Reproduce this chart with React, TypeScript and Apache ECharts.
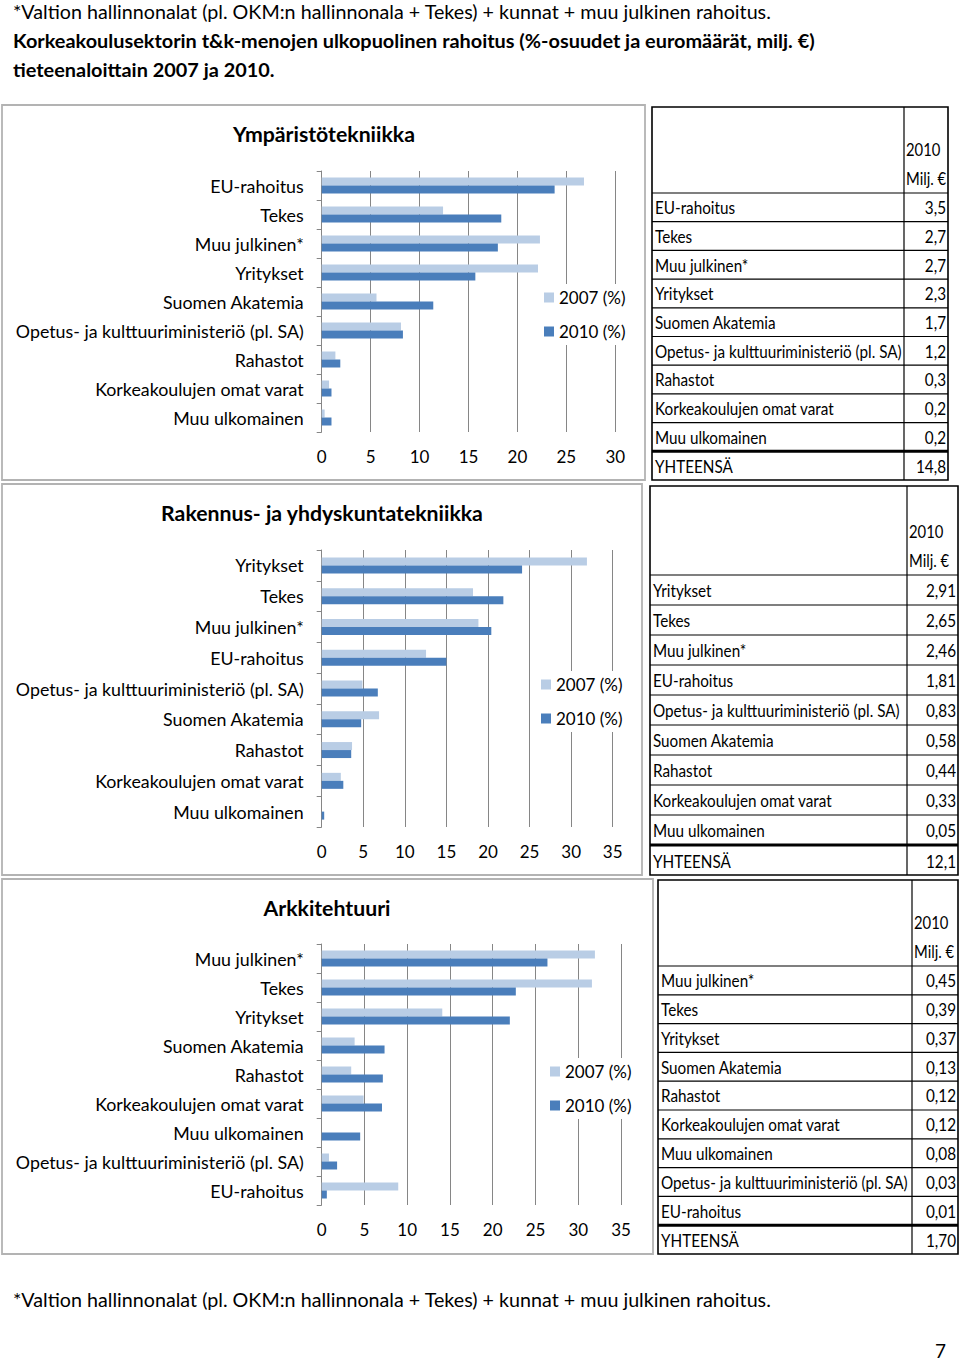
import React, { useEffect, useRef } from 'react';
import * as echarts from 'echarts';

// ---------- DATA ----------
const headerLine1 = '*Valtion hallinnonalat (pl. OKM:n hallinnonala + Tekes) + kunnat + muu julkinen rahoitus.';
const headerLine2 = 'Korkeakoulusektorin t&k-menojen ulkopuolinen rahoitus (%-osuudet ja euromäärät, milj. €)';
const headerLine3 = 'tieteenaloittain 2007 ja 2010.';
const footerLine = '*Valtion hallinnonalat (pl. OKM:n hallinnonala + Tekes) + kunnat + muu julkinen rahoitus.';
const pageNo = '7';

const seriesNames = ['2007 (%)', '2010 (%)'];
const tableHead = ['2010', 'Milj. €'];
const totalLabel = 'YHTEENSÄ';

const titles = ['Ympäristötekniikka', 'Rakennus- ja yhdyskuntatekniikka', 'Arkkitehtuuri'];
const xMax = [30, 35, 35];
const xInterval = 5;

const cats1 = ['EU-rahoitus', 'Tekes', 'Muu julkinen*', 'Yritykset', 'Suomen Akatemia', 'Opetus- ja kulttuuriministeriö (pl. SA)', 'Rahastot', 'Korkeakoulujen omat varat', 'Muu ulkomainen'];
const pct2007_1 = [26.8, 12.4, 22.3, 22.1, 5.6, 8.1, 1.4, 0.75, 0.3];
const pct2010_1 = [23.8, 18.35, 18.0, 15.7, 11.4, 8.3, 1.9, 1.0, 1.0];
const milj1 = [3.5, 2.7, 2.7, 2.3, 1.7, 1.2, 0.3, 0.2, 0.2];
const total1 = 14.8;

const cats2 = ['Yritykset', 'Tekes', 'Muu julkinen*', 'EU-rahoitus', 'Opetus- ja kulttuuriministeriö (pl. SA)', 'Suomen Akatemia', 'Rahastot', 'Korkeakoulujen omat varat', 'Muu ulkomainen'];
const pct2007_2 = [31.9, 18.2, 18.85, 12.55, 4.9, 6.9, 3.65, 2.3, 0];
const pct2010_2 = [24.1, 21.85, 20.4, 15.0, 6.75, 4.75, 3.55, 2.6, 0.3];
const milj2 = [2.91, 2.65, 2.46, 1.81, 0.83, 0.58, 0.44, 0.33, 0.05];
const total2 = 12.1;

const cats3 = ['Muu julkinen*', 'Tekes', 'Yritykset', 'Suomen Akatemia', 'Rahastot', 'Korkeakoulujen omat varat', 'Muu ulkomainen', 'Opetus- ja kulttuuriministeriö (pl. SA)', 'EU-rahoitus'];
const pct2007_3 = [31.95, 31.6, 14.1, 3.85, 3.45, 4.9, 0, 0.85, 8.95];
const pct2010_3 = [26.4, 22.7, 22.0, 7.35, 7.15, 7.05, 4.5, 1.8, 0.6];
const milj3 = [0.45, 0.39, 0.37, 0.13, 0.12, 0.12, 0.08, 0.03, 0.01];
const total3 = 1.7;

const charts = [
  { cats: cats1, p07: pct2007_1, p10: pct2010_1, milj: milj1, total: total1, dec: 1, totalDec: 1 },
  { cats: cats2, p07: pct2007_2, p10: pct2010_2, milj: milj2, total: total2, dec: 2, totalDec: 1 },
  { cats: cats3, p07: pct2007_3, p10: pct2010_3, milj: milj3, total: total3, dec: 2, totalDec: 2 },
];

// ---------- LAYOUT / STYLE ----------
const FONT = 'Lato';
const COL07 = '#b9cde5';
const COL10 = '#4a7ebb';
const GRIDCOL = '#868686';

const grids = [
  { left: 321.7, top: 171, width: 293.6, height: 261 },
  { left: 321.7, top: 550, width: 291, height: 277 },
  { left: 321.7, top: 944, width: 299.3, height: 261 },
];
const legendPos = [
  { left: 539, top: 284 },
  { left: 536, top: 671 },
  { left: 545, top: 1058 },
];
const titlePos = [
  { x: 324, y: 134 },
  { x: 322, y: 513 },
  { x: 327, y: 908 },
];
const panels = [
  { x: 2, y: 105, w: 643, h: 375 },
  { x: 2, y: 484, w: 640, h: 391 },
  { x: 2, y: 879, w: 651, h: 375 },
];
const tables = [
  { left: 652, right: 948, top: 107, bottom: 480, headBottom: 193, divider: 904 },
  { left: 650, right: 958, top: 486, bottom: 875, headBottom: 575, divider: 907 },
  { left: 658, right: 958, top: 880, bottom: 1254, headBottom: 966, divider: 912 },
];

function textWidth(s: string, font: string): number {
  const c = document.createElement('canvas').getContext('2d');
  if (!c) return s.length * 8;
  c.font = font;
  return c.measureText(s).width;
}

function fmt(v: number, d: number) {
  return v.toFixed(d).replace('.', ',');
}

export default function App() {
  const ref = useRef<HTMLDivElement>(null);
  useEffect(() => {
    document.body.style.margin = '0';
    if (!ref.current) return;
    const chart = echarts.init(ref.current, undefined, { renderer: 'svg' });

    const longest = 'Opetus- ja kulttuuriministeriö (pl. SA)';
    const axisFs = Math.min(18.5, 17 * 288 / textWidth(longest, `17px ${FONT}`));
    const kHead = 759 / textWidth(headerLine1, `19px ${FONT}`);
    const kHeadB = 802 / textWidth(headerLine2, `bold 19px ${FONT}`);
    const kTable = 247 / textWidth(longest, `17px ${FONT}`);
    const kTitle = 182 / textWidth(titles[0], `bold 20px ${FONT}`);

    const txt = (text: string, x: number, y: number, size: number, opts: any = {}) => ({
      type: 'text',
      x,
      y,
      scaleX: opts.scaleX ?? 1,
      z: 10,
      style: {
        text,
        fontSize: size,
        fontFamily: FONT,
        fontWeight: opts.bold ? 'bold' : 'normal',
        fill: '#000',
        align: opts.align ?? 'left',
        verticalAlign: 'middle',
      },
    });
    const ln = (x1: number, y1: number, x2: number, y2: number, w = 1.2) => ({
      type: 'line',
      z: 10,
      shape: { x1, y1, x2, y2 },
      style: { stroke: '#000', lineWidth: w },
    });

    const graphics: any[] = [];
    graphics.push(txt(headerLine1, 13, 12, 19, { scaleX: kHead }));
    graphics.push(txt(headerLine2, 13, 41, 19, { bold: true, scaleX: kHeadB }));
    graphics.push(txt(headerLine3, 13, 70, 19, { bold: true, scaleX: kHeadB }));
    graphics.push(txt(footerLine, 13, 1300, 19, { scaleX: kHead }));
    graphics.push(txt(pageNo, 946, 1350, 19, { align: 'right' }));

    panels.forEach((p) => {
      graphics.push({
        type: 'rect',
        z: 0,
        shape: { x: p.x, y: p.y, width: p.w, height: p.h },
        style: { fill: 'none', stroke: '#b3b3b3', lineWidth: 1.8 },
      });
    });
    titles.forEach((t, i) => {
      graphics.push({
        ...txt(t, titlePos[i].x, titlePos[i].y, 20, { bold: true, align: 'center', scaleX: kTitle }),
      });
    });

    charts.forEach((c, i) => {
      const t = tables[i];
      const n = c.cats.length + 1;
      const rowH = (t.bottom - t.headBottom) / n;
      graphics.push({
        type: 'rect',
        z: 10,
        shape: { x: t.left, y: t.top, width: t.right - t.left, height: t.bottom - t.top },
        style: { fill: 'none', stroke: '#000', lineWidth: 1.6 },
      });
      graphics.push(ln(t.divider, t.top, t.divider, t.bottom));
      for (let k = 0; k < n; k++) {
        const y = t.headBottom + k * rowH;
        graphics.push(ln(t.left, y, t.right, y, k === n - 1 ? 3 : 1.2));
      }
      graphics.push(txt(tableHead[0], t.divider + 2, t.headBottom - 43, 16.5, { scaleX: kTable }));
      graphics.push(txt(tableHead[1], t.divider + 2, t.headBottom - 14, 16.5, { scaleX: kTable }));
      c.cats.forEach((cat, k) => {
        const y = t.headBottom + (k + 0.5) * rowH;
        graphics.push(txt(cat, t.left + 3, y, 17, { scaleX: kTable }));
        graphics.push(txt(fmt(c.milj[k], c.dec), t.right - 2, y, 17, { scaleX: kTable, align: 'right' }));
      });
      const yT = t.headBottom + (n - 0.5) * rowH + 1;
      graphics.push(txt(totalLabel, t.left + 3, yT, 17, { scaleX: kTable }));
      graphics.push(txt(fmt(c.total, c.totalDec), t.right - 2, yT, 17, { scaleX: kTable, align: 'right' }));
    });

    const option: any = {
      animation: false,
      backgroundColor: '#fff',
      textStyle: { fontFamily: FONT },
      grid: grids.map((g) => ({ ...g, containLabel: false })),
      legend: legendPos.map((lp) => ({
        data: seriesNames,
        orient: 'vertical',
        left: lp.left,
        top: lp.top,
        itemWidth: 10,
        itemHeight: 10,
        itemGap: 17,
        icon: 'rect',
        backgroundColor: '#fff',
        padding: 5,
        textStyle: { fontSize: 17, color: '#000', fontFamily: FONT },
        selectedMode: false,
      })),
      xAxis: charts.map((c, i) => ({
        type: 'value',
        gridIndex: i,
        min: 0,
        max: xMax[i],
        interval: xInterval,
        axisLine: { show: false },
        axisTick: { show: false },
        splitLine: { show: true, lineStyle: { color: GRIDCOL, width: 1 } },
        axisLabel: { fontSize: 17, color: '#000', margin: 16, fontFamily: FONT },
      })),
      yAxis: charts.map((c, i) => ({
        type: 'category',
        gridIndex: i,
        data: c.cats,
        inverse: true,
        axisLine: { show: true, lineStyle: { color: GRIDCOL, width: 1 } },
        axisTick: { show: true, length: 5, lineStyle: { color: GRIDCOL } },
        axisLabel: { fontSize: axisFs, color: '#000', margin: 18, fontFamily: FONT },
      })),
      series: charts.flatMap((c, i) => [
        {
          name: seriesNames[0],
          type: 'bar',
          xAxisIndex: i,
          yAxisIndex: i,
          data: c.p07,
          barWidth: 8,
          barGap: '0%',
          itemStyle: { color: COL07 },
        },
        {
          name: seriesNames[1],
          type: 'bar',
          xAxisIndex: i,
          yAxisIndex: i,
          data: c.p10,
          barWidth: 8,
          barGap: '0%',
          itemStyle: { color: COL10 },
        },
      ]),
      graphic: graphics,
    };
    chart.setOption(option);
    return () => chart.dispose();
  }, []);
  return <div ref={ref} style={{ width: 960, height: 1363 }} />;
}
